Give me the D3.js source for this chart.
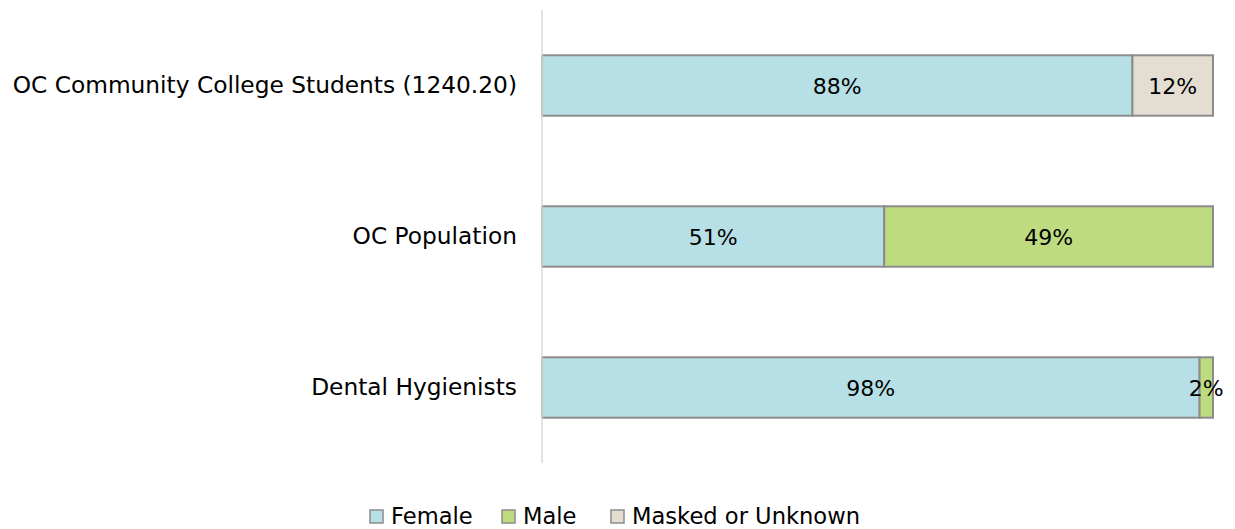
<!DOCTYPE html>
<html><head><meta charset="utf-8">
<script src="https://cdn.jsdelivr.net/npm/d3@7"></script>
<style>body{margin:0;background:#fff}svg{display:block}text{font-family:"DejaVu Sans",sans-serif;fill:#000}</style>
</head><body><svg id="c" width="1235" height="529"></svg>
<script>
const categories = ["OC Community College Students (1240.20)", "OC Population", "Dental Hygienists"];
const seriesNames = ["Female", "Male", "Masked or Unknown"];
const female = [88, 51, 98];
const male = [0, 49, 2];
const masked = [12, 0, 0];
const colors = ["#b7e0e6", "#bedb80", "#e4ddd2"];
const FONT = '"DejaVu Sans",sans-serif';

const svg = d3.select("#c");
const x = d3.scaleLinear().domain([0, 100]).range([542, 1213]);
const y = d3.scaleBand().domain(categories).range([10, 463]).paddingInner(0.6).paddingOuter(0.3);

const series = [female, male, masked];
const rows = categories.map((c, i) => {
  let acc = 0;
  return series.map((s, k) => { const d = {cat: c, k, v: s[i], x0: acc, x1: acc + s[i]}; acc += s[i]; return d; });
});

rows.forEach(r => {
  const g = svg.append("g");
  r.filter(d => d.v > 0).forEach(d => {
    g.append("rect").attr("x", x(d.x0)).attr("y", y(d.cat)).attr("width", x(d.x1) - x(d.x0))
      .attr("height", y.bandwidth()).attr("fill", colors[d.k]).attr("stroke", "#8c8c8c").attr("stroke-width", 2);
  });
  r.filter(d => d.v > 0).forEach(d => {
    g.append("text").attr("x", (x(d.x0) + x(d.x1)) / 2).attr("y", y(d.cat) + y.bandwidth() / 2 + 8)
      .attr("text-anchor", "middle").attr("font-size", 22).text(d.v + "%");
  });
});

const yAxis = svg.append("g").attr("transform", "translate(542,0)").call(d3.axisLeft(y).tickSize(0).tickPadding(25));
yAxis.select(".domain").attr("stroke", "#d9d9d9").attr("stroke-width", 1.5).attr("d", "M0,10V463");
yAxis.selectAll("text").attr("font-size", 23.3).style("font-family", FONT).attr("fill", "#000").attr("dy", "0.3em");

const legX = [370, 502, 611];
const leg = svg.append("g");
seriesNames.forEach((n, k) => {
  leg.append("rect").attr("x", legX[k]).attr("y", 510).attr("width", 13).attr("height", 13)
    .attr("fill", colors[k]).attr("stroke", "#8c8c8c").attr("stroke-width", 1.5);
  leg.append("text").attr("x", legX[k] + 21).attr("y", 524)
    .attr("font-size", 22.6).text(n);
});
</script></body></html>
